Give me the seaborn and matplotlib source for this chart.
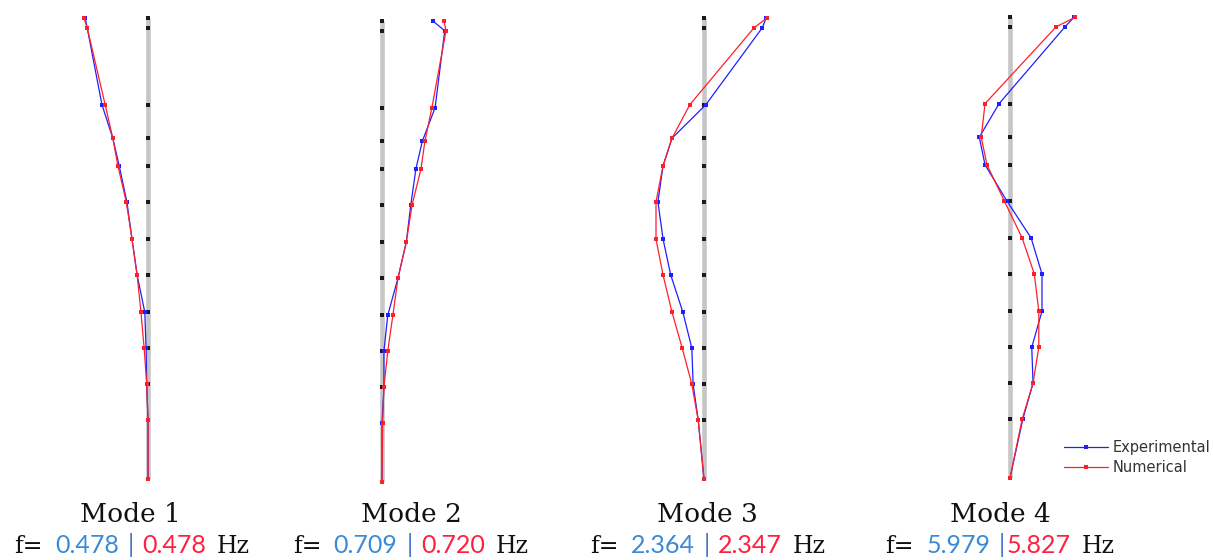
import numpy as np
import pandas as pd
import matplotlib
matplotlib.use("Agg")
import matplotlib.pyplot as plt
import seaborn as sns

# Floor levels of the instrumented structure (m), bottom to top
levels = [0.0, 4.9, 7.9, 10.9, 13.9, 17.0, 20.0, 23.1, 26.1, 28.4, 31.2, 37.6, 38.4]

# Normalised modal displacements at each level, bottom to top
exp_mode1 = [0, 0, -0.02, -0.03, -0.05, -0.17, -0.25, -0.33, -0.45, -0.55, -0.72, -0.95, -0.98]
num_mode1 = [0, 0, -0.02, -0.06, -0.11, -0.17, -0.25, -0.34, -0.47, -0.55, -0.67, -0.95, -1.00]

exp_mode2 = [0, 0, 0.03, 0.03, 0.09, 0.25, 0.38, 0.45, 0.53, 0.63, 0.83, 0.98, 0.80]
num_mode2 = [0, 0.01, 0.03, 0.09, 0.17, 0.25, 0.38, 0.47, 0.61, 0.67, 0.78, 1.00, 0.97]

exp_mode3 = [0, -0.09, -0.17, -0.19, -0.33, -0.52, -0.64, -0.72, -0.64, -0.50, 0.03, 0.91, 0.97]
num_mode3 = [0, -0.09, -0.19, -0.34, -0.50, -0.64, -0.75, -0.75, -0.64, -0.50, -0.22, 0.78, 0.98]

exp_mode4 = [0, 0.20, 0.36, 0.34, 0.50, 0.50, 0.33, -0.05, -0.39, -0.48, -0.17, 0.86, 1.00]
num_mode4 = [0, 0.19, 0.36, 0.45, 0.45, 0.38, 0.19, -0.09, -0.36, -0.45, -0.39, 0.72, 1.02]

mode_titles = ["Mode 1", "Mode 2", "Mode 3", "Mode 4"]
freq_exp = ["0.478", "0.709", "2.364", "5.979"]
freq_num = ["0.478", "0.720", "2.347", "5.827"]
separators = [" | ", " | ", " | ", " |"]

sns.set_style("white")
plt.rcParams["font.family"] = ["DejaVu Sans"]

W, H, DPI = 1213, 560, 100
fig = plt.figure(figsize=(W / DPI, H / DPI), dpi=DPI)

BLUE = "#1f1fff"
RED = "#ff1f2a"
TXT_BLUE = "#3a8ad6"
TXT_RED = "#ff2040"

# Panel layout in pixels: centre of the reference column and vertical shift
centres = [148, 382, 704, 1010]
shifts = [0, 3, 0, -1]
px_per_unit = 64.0
px_per_m = 12.0
xlim = (-1.2, 1.2)
ylim = (-0.5, 39.5)
base_px = 479

modes = [(exp_mode1, num_mode1), (exp_mode2, num_mode2),
         (exp_mode3, num_mode3), (exp_mode4, num_mode4)]

axes = []
for i, (exp, num) in enumerate(modes):
    w = (xlim[1] - xlim[0]) * px_per_unit
    h = (ylim[1] - ylim[0]) * px_per_m
    left = centres[i] + xlim[0] * px_per_unit
    bottom_px = base_px + shifts[i] - ylim[0] * px_per_m  # pixel row of axes bottom
    ax = fig.add_axes([left / W, (H - bottom_px) / H, w / W, h / H])
    ax.set_xlim(*xlim)
    ax.set_ylim(*ylim)
    ax.axis("off")

    df = pd.DataFrame({"level": levels, "exp": exp, "num": num})

    # Undeformed reference column with measurement points
    ax.vlines(0, min(levels), max(levels), color="#c6c6c6", lw=3.3, zorder=1)
    sns.scatterplot(x=np.zeros(len(levels)), y=df["level"], ax=ax, marker="s",
                    s=9, color="#1a1a1a", linewidth=0, zorder=2)

    sns.lineplot(data=df, x="exp", y="level", sort=False, estimator=None, ax=ax,
                 color=BLUE, lw=0.9, marker="s", markersize=2.6, markeredgewidth=0,
                 label="Experimental", legend=False, zorder=3)
    sns.lineplot(data=df, x="num", y="level", sort=False, estimator=None, ax=ax,
                 color=RED, lw=0.9, marker="s", markersize=2.6, markeredgewidth=0,
                 label="Numerical", legend=False, zorder=4)
    axes.append(ax)

# Legend with the two data series
handles, labels = axes[-1].get_legend_handles_labels()
fig.legend(handles, labels, loc="upper left",
           bbox_to_anchor=(1064 / W, (H - 440) / H), frameon=False,
           fontsize=10.5, handlelength=3.0, handletextpad=0.3,
           labelspacing=0.35, borderpad=0, borderaxespad=0,
           labelcolor="#333333", markerscale=1.0)

renderer = fig.canvas.get_renderer()


def text_row(cx, baseline, pieces):
    """Lay out differently styled text pieces side by side, centred at cx."""
    objs, widths, gaps = [], [], []
    for s, color, fam, size, gap in pieces:
        t = fig.text(0, 0, s, color=color, family=fam, fontsize=size,
                     va="baseline", ha="left")
        objs.append(t)
        widths.append(t.get_window_extent(renderer).width)
        gaps.append(gap)
    total = sum(widths) + sum(gaps)
    x = cx - total / 2
    for t, wdt, gap in zip(objs, widths, gaps):
        x += gap
        t.set_position((x / W, (H - baseline) / H))
        x += wdt


title_centres = [130, 411, 707, 1000]
freq_centres = [132, 411, 708, 1000]
SERIF = "DejaVu Serif"
SANS = "Lato"
for i in range(4):
    text_row(title_centres[i], 522, [(mode_titles[i], "#111111", SERIF, 19, 0)])
    sep = separators[i].strip()
    gap_after_sep = 8 if separators[i].endswith(" ") else 1
    text_row(freq_centres[i], 553, [
        ("f=", "#111111", SERIF, 17, 0),
        (freq_exp[i], TXT_BLUE, SANS, 18, 12),
        (sep, "#4a78c8", SANS, 18, 9),
        (freq_num[i], TXT_RED, SANS, 18, gap_after_sep),
        ("Hz", "#111111", SERIF, 17, 11),
    ])

fig.savefig("out.png", dpi=DPI)
